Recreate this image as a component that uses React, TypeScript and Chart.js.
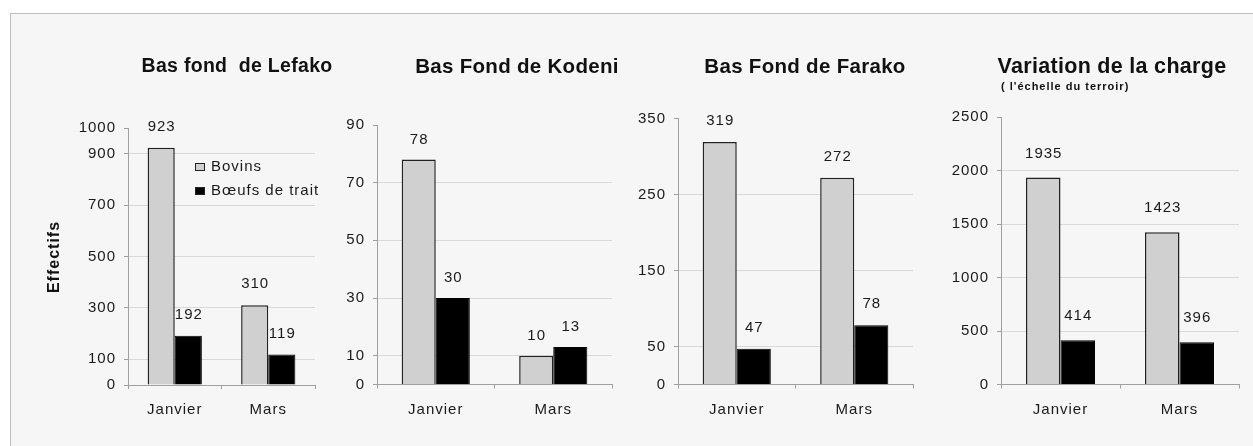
import React, { useEffect, useRef } from "react";
import { Chart, registerables } from "chart.js";

Chart.register(...registerables);

const categories = ["Janvier", "Mars"];
const seriesNames = ["Bovins", "Bœufs de trait"];

const lefakoBovins = [923, 310];
const lefakoBoeufs = [192, 119];
const kodeniBovins = [78, 10];
const kodeniBoeufs = [30, 13];
const farakoBovins = [319, 272];
const farakoBoeufs = [47, 78];
const chargeBovins = [1935, 1423];
const chargeBoeufs = [414, 396];

const lefakoTicks = [0, 100, 300, 500, 700, 900, 1000];
const kodeniTicks = [0, 10, 30, 50, 70, 90];
const farakoTicks = [0, 50, 150, 250, 350];
const chargeTicks = [0, 500, 1000, 1500, 2000, 2500];

const titles = ["Bas fond  de Lefako", "Bas Fond de Kodeni", "Bas Fond de Farako", "Variation de la charge"];
const subtitle = "( l'échelle du terroir)";
const yAxisTitle = "Effectifs";

const FONT = "'Liberation Sans', Arial, sans-serif";
const H = 446;

type Panel = {
  bovins: number[];
  boeufs: number[];
  ticks: number[];
  title: string;
  left: number;
  width: number;
  areaLeft: number;
  areaRight: number;
  areaTop: number;
  areaBottom: number;
  titleX: number;
  titleSize: number;
  labelGap: number;
  legend?: boolean;
  yTitle?: boolean;
  sub?: boolean;
};

const panels: Panel[] = [
  { bovins: lefakoBovins, boeufs: lefakoBoeufs, ticks: lefakoTicks, title: titles[0],
    left: 0, width: 360, areaLeft: 128, areaRight: 315, areaTop: 128, areaBottom: 385, titleX: 237, titleSize: 19.5, labelGap: 21, legend: true, yTitle: true },
  { bovins: kodeniBovins, boeufs: kodeniBoeufs, ticks: kodeniTicks, title: titles[1],
    left: 330, width: 310, areaLeft: 377, areaRight: 612, areaTop: 125, areaBottom: 384.5, titleX: 517, titleSize: 20.5, labelGap: 20 },
  { bovins: farakoBovins, boeufs: farakoBoeufs, ticks: farakoTicks, title: titles[2],
    left: 620, width: 320, areaLeft: 678, areaRight: 913, areaTop: 118.5, areaBottom: 384.5, titleX: 805, titleSize: 20.5, labelGap: 21 },
  { bovins: chargeBovins, boeufs: chargeBoeufs, ticks: chargeTicks, title: titles[3],
    left: 930, width: 323, areaLeft: 1001, areaRight: 1239, areaTop: 117, areaBottom: 384.5, titleX: 1112, titleSize: 21.5, labelGap: 24, sub: true },
];

function PanelChart({ p }: { p: Panel }) {
  const ref = useRef<HTMLCanvasElement | null>(null);
  useEffect(() => {
    if (!ref.current) return;
    const max = p.ticks[p.ticks.length - 1];
    const spacingPlugin = {
      id: "spacing",
      beforeUpdate(chart: any) { chart.ctx.letterSpacing = "1px"; },
      beforeDraw(chart: any) { chart.ctx.letterSpacing = "1px"; },
    };
    const decor = {
      id: "decor",
      afterDraw(chart: any) {
        const ctx = chart.ctx;
        ctx.save();
        ctx.letterSpacing = "1px";
        ctx.fillStyle = "#1a1a1a";
        ctx.font = `15px ${FONT}`;
        ctx.textAlign = "center";
        ctx.textBaseline = "middle";
        chart.data.datasets.forEach((ds: any, di: number) => {
          const meta = chart.getDatasetMeta(di);
          meta.data.forEach((el: any, i: number) => {
            ctx.fillText(String(ds.data[i]), el.x + 0.5, el.y - p.labelGap);
          });
        });
        ctx.letterSpacing = "0.3px";
        ctx.fillStyle = "#111";
        ctx.font = `bold ${p.titleSize}px ${FONT}`;
        ctx.fillText(p.title, p.titleX - p.left, 67);
        if (p.sub) {
          ctx.font = `bold 11px ${FONT}`;
          ctx.textAlign = "left";
          ctx.letterSpacing = "1px";
          ctx.fillText(subtitle, 1001 - p.left, 87);
        }
        if (p.yTitle) {
          ctx.save();
          ctx.translate(55, 257);
          ctx.rotate(-Math.PI / 2);
          ctx.textAlign = "center";
          ctx.font = `bold 16px ${FONT}`;
          ctx.letterSpacing = "1px";
          ctx.fillText(yAxisTitle, 0, 0);
          ctx.restore();
        }
        if (p.legend) {
          ctx.letterSpacing = "1px";
          ctx.font = `15px ${FONT}`;
          ctx.textAlign = "left";
          ctx.textBaseline = "middle";
          const items = chart.data.datasets;
          items.forEach((ds: any, i: number) => {
            const y = 167 + i * 24;
            ctx.fillStyle = ds.backgroundColor;
            ctx.fillRect(195, y - 4, 10, 8);
            ctx.strokeStyle = "#222";
            ctx.lineWidth = 1;
            ctx.strokeRect(195.5, y - 3.5, 9, 7);
            ctx.fillStyle = "#1a1a1a";
            ctx.fillText(ds.label, 211, y);
          });
        }
        ctx.restore();
      },
    };
    const chart = new Chart(ref.current, {
      type: "bar",
      data: {
        labels: categories,
        datasets: [
          { label: seriesNames[0], data: p.bovins, backgroundColor: "#d0d0d0", borderColor: "#222", borderWidth: 1.5,
            barPercentage: 1, categoryPercentage: 0.58 },
          { label: seriesNames[1], data: p.boeufs, backgroundColor: "#000000", borderColor: "#000", borderWidth: 1,
            barPercentage: 1, categoryPercentage: 0.58 },
        ],
      },
      options: {
        animation: false,
        responsive: false,
        maintainAspectRatio: false,
        layout: {
          padding: { left: 0, top: p.areaTop, right: p.left + p.width - p.areaRight, bottom: 0 },
        },
        plugins: { legend: { display: false }, title: { display: false }, tooltip: { enabled: false } },
        scales: {
          x: {
            offset: true,
            grid: { offset: true, drawOnChartArea: false, drawTicks: true, tickLength: 4, tickColor: "#a0a0a0" },
            border: { color: "#a0a0a0", width: 1 },
            ticks: { color: "#1a1a1a", font: { family: FONT, size: 15 }, padding: 12, maxRotation: 0 },
            afterFit: (s: any) => { s.height = H - p.areaBottom; },
          },
          y: {
            min: 0,
            max,
            afterBuildTicks: (s: any) => { s.ticks = p.ticks.map((v) => ({ value: v })); },
            grid: {
              color: (c: any) => (c.tick && (c.tick.value === 0 || c.tick.value === max) ? "rgba(0,0,0,0)" : "#d9d9d9"),
              tickColor: "#a0a0a0",
              tickLength: 4,
              lineWidth: 1,
            },
            border: { color: "#a0a0a0", width: 1 },
            ticks: {
              color: "#1a1a1a", font: { family: FONT, size: 15 }, padding: 8, autoSkip: false,
              callback: (v: any) => String(v),
            },
            afterFit: (s: any) => { s.width = p.areaLeft - p.left; },
          },
        },
      },
      plugins: [spacingPlugin, decor],
    });
    return () => chart.destroy();
  }, [p]);
  return (
    <canvas
      ref={ref}
      width={p.width}
      height={H}
      style={{ position: "absolute", left: p.left, top: 0, width: p.width, height: H }}
    />
  );
}

export default function App() {
  return (
    <div style={{ position: "absolute", left: 0, top: 0, width: 1253, height: H, background: "#ffffff", overflow: "hidden" }}>
      <div
        style={{
          position: "absolute", left: 10, top: 13, width: 1243, height: H - 13,
          background: "#f6f6f6", borderTop: "1px solid #bdbdbd", borderLeft: "1px solid #bdbdbd", boxSizing: "border-box",
        }}
      />
      {panels.map((p, i) => (
        <PanelChart key={i} p={p} />
      ))}
    </div>
  );
}
